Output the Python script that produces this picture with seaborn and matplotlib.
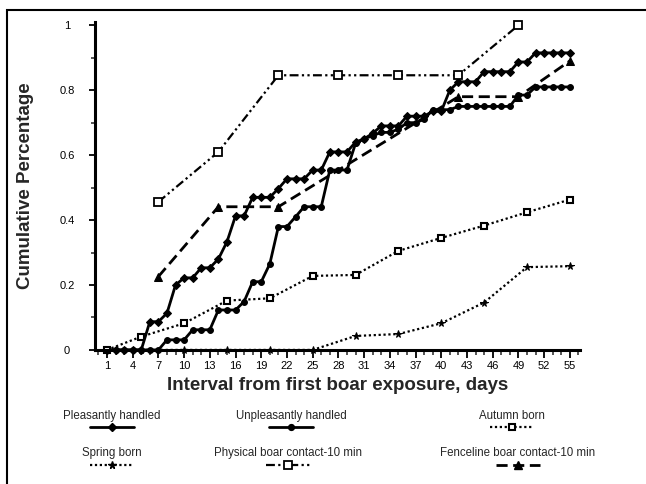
import numpy as np
import pandas as pd
import matplotlib
matplotlib.use("Agg")
import matplotlib.pyplot as plt
from matplotlib.lines import Line2D
from matplotlib.patches import Rectangle
from matplotlib.ticker import MultipleLocator, FixedLocator
import seaborn as sns

# data
days_all = list(range(1, 56))
pleasant = [0, 0, 0, 0, 0,
            0.087, 0.087, 0.113, 0.2, 0.222,
            0.222, 0.253, 0.253, 0.28, 0.333,
            0.413, 0.413, 0.47, 0.47, 0.47,
            0.497, 0.527, 0.527, 0.527, 0.554,
            0.554, 0.61, 0.61, 0.61, 0.64,
            0.65, 0.667, 0.69, 0.69, 0.69,
            0.72, 0.72, 0.72, 0.735, 0.735,
            0.80, 0.826, 0.826, 0.826, 0.857,
            0.857, 0.857, 0.857, 0.887, 0.887,
            0.915, 0.915, 0.915, 0.915, 0.915]
unpleasant = [0, 0, 0, 0, 0,
              0, 0, 0.031, 0.031, 0.031,
              0.062, 0.062, 0.062, 0.123, 0.123,
              0.123, 0.149, 0.21, 0.21, 0.265,
              0.38, 0.38, 0.41, 0.441, 0.441,
              0.441, 0.554, 0.554, 0.554, 0.636,
              0.65, 0.66, 0.67, 0.67, 0.68,
              0.70, 0.70, 0.71, 0.74, 0.74,
              0.74, 0.75, 0.75, 0.75, 0.75,
              0.75, 0.75, 0.75, 0.785, 0.785,
              0.81, 0.81, 0.81, 0.81, 0.81]
autumn_days = [1, 5, 10, 15, 20, 25, 30, 35, 40, 45, 50, 55]
autumn = [0, 0.041, 0.082, 0.152, 0.159, 0.228, 0.231, 0.305, 0.345, 0.383, 0.424, 0.463]
spring_days = [5, 10, 15, 20, 25, 30, 35, 40, 45, 50, 55]
spring = [0, 0, 0, 0, 0, 0.043, 0.049, 0.082, 0.146, 0.255, 0.258]
physical_days = [7, 14, 21, 28, 35, 42, 49]
physical = [0.456, 0.61, 0.846, 0.846, 0.846, 0.846, 1.0]
fence_days = [7, 14, 21, 42, 49, 55]
fence = [0.226, 0.441, 0.441, 0.78, 0.78, 0.89]

xticks = list(range(1, 56, 3))
yticks = [0, 0.2, 0.4, 0.6, 0.8, 1.0]
ytick_labels = ["0", "0.2", "0.4", "0.6", "0.8", "1"]

series = [
    ("Pleasantly handled", days_all, pleasant,
     dict(linestyle="-", lw=2.0, marker="D", ms=3.8, mfc="black", mec="black")),
    ("Unpleasantly handled", days_all, unpleasant,
     dict(linestyle="-", lw=2.0, marker="o", ms=4.2, mfc="black", mec="black")),
    ("Autumn born", autumn_days, autumn,
     dict(linestyle=(0, (1, 1.2)), lw=1.6, marker="s", ms=4.5, mfc="white", mec="black", mew=1.5)),
    ("Spring born", spring_days, spring,
     dict(linestyle=(0, (1, 1.2)), lw=1.6, marker="*", ms=5.5, mfc="black", mec="black")),
    ("Physical boar contact-10 min", physical_days, physical,
     dict(linestyle=(0, (4, 1.5, 1, 1.5, 1, 1.5)), lw=1.6, marker="s", ms=5.2, mfc="white", mec="black", mew=1.3)),
    ("Fenceline boar contact-10 min", fence_days, fence,
     dict(linestyle=(0, (4, 2)), lw=2.0, marker="^", ms=6, mfc="black", mec="black")),
]

sns.set_style("ticks")
plt.rcParams["font.family"] = ["Liberation Sans", "DejaVu Sans"]

fig = plt.figure(figsize=(6.46, 4.84), dpi=100)
ax = fig.add_axes([0.147, 0.277, 0.751, 0.6775])

for name, xs, ys, style in series:
    df = pd.DataFrame({"day": xs, "value": ys})
    sns.lineplot(data=df, x="day", y="value", ax=ax, color="black",
                 estimator=None, sort=False, clip_on=False, **style)

ax.set_xlim(-0.4, 56.2)
ax.set_ylim(0, 1.01)
ax.xaxis.set_major_locator(FixedLocator(xticks))
ax.xaxis.set_minor_locator(MultipleLocator(1))
ax.set_xticklabels([str(t) for t in xticks])
ax.yaxis.set_major_locator(FixedLocator(yticks))
ax.yaxis.set_minor_locator(MultipleLocator(0.1))
ax.set_yticklabels(ytick_labels)

for s in ["top", "right"]:
    ax.spines[s].set_visible(False)
for s in ["left", "bottom"]:
    ax.spines[s].set_linewidth(2.2)
    ax.spines[s].set_color("black")

ax.tick_params(axis="x", which="major", direction="out", length=6, width=1.3,
               labelsize=8, pad=2, colors="black")
ax.tick_params(axis="x", which="minor", direction="out", length=3.5, width=1.1)
ax.tick_params(axis="y", which="major", direction="out", length=4, width=1.3,
               labelsize=8, pad=16, colors="black")
ax.tick_params(axis="y", which="minor", direction="out", length=3, width=1.1)
for lab in ax.get_yticklabels():
    lab.set_horizontalalignment("center")

ax.set_xlabel("Interval from first boar exposure, days", fontsize=13.5,
              fontweight="bold", labelpad=4)
ax.set_ylabel("Cumulative Percentage", fontsize=13.5, fontweight="bold",
              labelpad=18)

# legend drawn below the axes: label on top, line sample underneath
W, H = 646.0, 484.0
legend_pos = [(112, 416, 427), (291, 416, 427), (512, 416, 427),
              (112, 453, 465), (288, 453, 465), (518, 453, 465)]
for (name, xs, ys, style), (cx, ty, ly) in zip(series, legend_pos):
    fig.text(cx / W, 1 - ty / H, name, ha="center", va="center", fontsize=8.3)
    half = 22
    line = Line2D([(cx - half) / W, cx / W, (cx + half) / W],
                  [1 - ly / H] * 3, transform=fig.transFigure,
                  color="black", markevery=[1], **style)
    fig.add_artist(line)

# outer frame of the figure
fig.add_artist(Rectangle((7 / W, -0.05), 1.2, 1 - 10 / H + 0.05,
                         transform=fig.transFigure, fill=False,
                         lw=1.5, ec="black", clip_on=False))

fig.savefig("out.png", dpi=100, facecolor="white")
